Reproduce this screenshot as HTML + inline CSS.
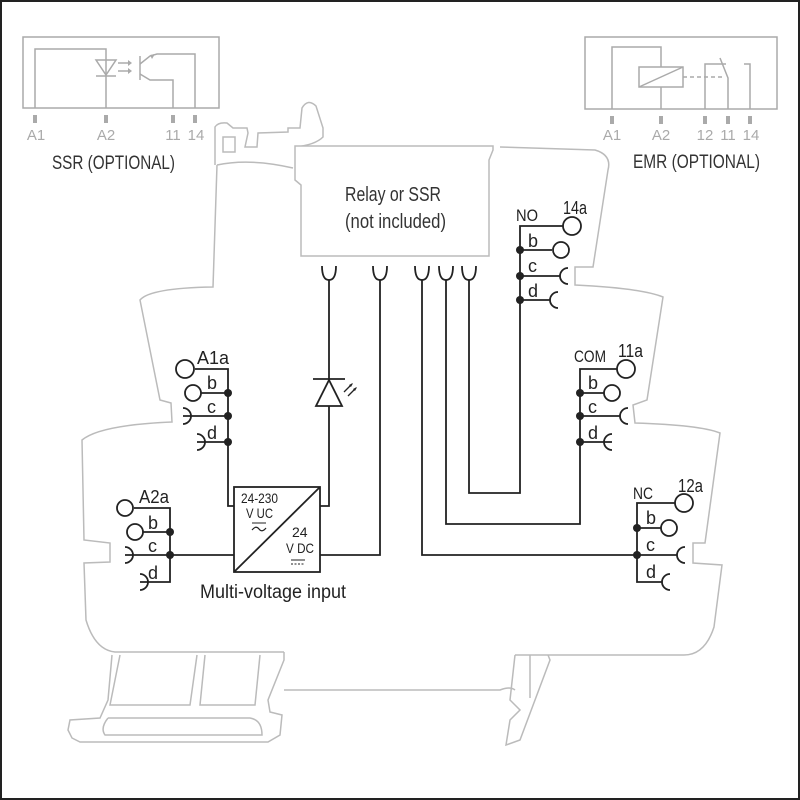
<!DOCTYPE html>
<html><head><meta charset="utf-8"><style>
html,body{margin:0;padding:0;background:#fff}
svg{display:block}
text{font-family:"Liberation Sans Narrow","Liberation Sans",sans-serif}
</style></head><body>
<svg width="800" height="800" viewBox="0 0 800 800" xmlns="http://www.w3.org/2000/svg">
<rect x="0" y="0" width="800" height="800" fill="#fff" stroke="#222" stroke-width="4"/>
<rect x="14" y="12" width="770" height="775" fill="#fff"/>

<!-- SSR optional -->
<g stroke="#aaa" stroke-width="1.5" fill="none">
<rect x="23" y="37" width="196" height="71"/>
<polyline points="35,108 35,49 106,49 106,108"/>
<polygon points="96,60 116,60 106,75"/>
<line x1="96" y1="76" x2="116" y2="76"/>
<line x1="118" y1="63" x2="128" y2="63"/><line x1="118" y1="71" x2="128" y2="71"/>
<line x1="140" y1="56" x2="140" y2="80"/>
<polyline points="140,64 150,56 157,54 195,54 195,108"/>
<polyline points="140,74 150,80 173,80 173,108"/>
</g>
<g fill="#aaa"><polygon points="128,60 132,63 128,66"/><polygon points="128,68 132,71 128,74"/><polygon points="150,55 155,54 152,59"/>
<rect x="33" y="115" width="4" height="8"/><rect x="104" y="115" width="4" height="8"/><rect x="171" y="115" width="4" height="8"/><rect x="193" y="115" width="4" height="8"/>
</g>
<g fill="#aaa" font-size="15" text-anchor="middle">
<text x="36" y="140">A1</text><text x="106" y="140">A2</text><text x="173" y="140">11</text><text x="196" y="140">14</text>
</g>
<text x="52" y="169" font-size="19" fill="#333" textLength="123" lengthAdjust="spacingAndGlyphs">SSR (OPTIONAL)</text>

<!-- EMR optional -->
<g stroke="#aaa" stroke-width="1.5" fill="none">
<rect x="585" y="37" width="192" height="72"/>
<polyline points="612,109 612,47 661,47 661,67"/>
<line x1="661" y1="87" x2="661" y2="109"/>
<rect x="639" y="67" width="44" height="20"/>
<line x1="639" y1="87" x2="683" y2="67"/>
<line x1="683" y1="77" x2="725" y2="77" stroke-dasharray="4,3"/>
<polyline points="705,109 705,64 726,64"/>
<polyline points="720,58 728,78 728,109"/>
<polyline points="744,64 750,64 750,109"/>
</g>
<g fill="#aaa"><rect x="610" y="116" width="4" height="8"/><rect x="659" y="116" width="4" height="8"/><rect x="703" y="116" width="4" height="8"/><rect x="726" y="116" width="4" height="8"/><rect x="748" y="116" width="4" height="8"/></g>
<g fill="#aaa" font-size="15" text-anchor="middle">
<text x="612" y="140">A1</text><text x="661" y="140">A2</text><text x="705" y="140">12</text><text x="728" y="140">11</text><text x="751" y="140">14</text>
</g>
<text x="633" y="168" font-size="19" fill="#333" textLength="127" lengthAdjust="spacingAndGlyphs">EMR (OPTIONAL)</text>

<!-- housing outline -->
<g stroke="#bbb" stroke-width="1.5" fill="none">
<path d="M217,165 Q250,158 293,168 M217,165 L213,287 Q150,288 140,300 L160,400 L171,403 L172,422 Q100,425 82,440 L84,540 L110,543 L110,562 L84,563 L86,620 Q95,650 115,652 L284,652"/>
<path d="M215,165 L215,127 Q218,122 227,123 L233,128 L247,128 L248,133 L245,147 L257,147 L258,133 L288,132 L288,128 L300,128 L302,108 Q308,98 316,106 L323,128 L323,137 Q315,145 295,147 M223,137 L235,137 L235,152 L223,152 Z"/>
<path d="M500,147 L595,150 Q612,155 608,170 L593,267 L575,267 L575,285 Q640,288 663,297 L647,400 L633,405 L635,423 Q700,425 720,433 L705,543 L693,543 L693,563 L722,565 L714,627 Q705,655 684,655 L515,655"/>
<path d="M112,655 L108,700 L100,718 L70,720 L68,730 L72,738 L80,742 L268,742 L280,735 L282,715 L270,712 L268,700 L284,660 L284,652 M120,655 L110,705 L190,705 L197,655 M205,655 L200,705 L255,705 L260,655 M108,718 L250,718 Q262,720 262,735 L105,735 Q100,728 108,718"/>
<path d="M284,690 L500,690 Q510,686 515,690 M515,655 L510,700 L520,710 L510,720 L506,745 L520,740 L550,660 L548,655 M530,655 L530,698"/>
</g>

<!-- relay box -->
<path d="M295,146 L493,146 L493,150 L489,160 L489,256 L301,256 L301,185 L295,180 Z" fill="#fff" stroke="#bbb" stroke-width="1.5"/>
<text x="345" y="201" font-size="20" fill="#333" textLength="96" lengthAdjust="spacingAndGlyphs">Relay or SSR</text>
<text x="345" y="228" font-size="20" fill="#333" textLength="101" lengthAdjust="spacingAndGlyphs">(not included)</text>

<g stroke="#222" stroke-width="1.8" fill="none">
<path d="M322,266 Q322,280 329,280 Q336,280 336,266"/>
<path d="M373,266 Q373,280 380,280 Q387,280 387,266"/>
<path d="M415,266 Q415,280 422,280 Q429,280 429,266"/>
<path d="M439,266 Q439,280 446,280 Q453,280 453,266"/>
<path d="M462,266 Q462,280 469,280 Q476,280 476,266"/>
<polyline points="329,280 329,506 320,506"/>
<polyline points="380,280 380,555 320,555"/>
<polyline points="422,280 422,555 637,555"/>
<polyline points="446,280 446,524 580,524 580,442"/>
<polyline points="469,280 469,493 520,493 520,300"/>
<line x1="313" y1="379" x2="345" y2="379"/>
<polygon points="329,380 316,406 342,406" fill="#fff"/>
<rect x="234" y="487" width="86" height="85" fill="#fff"/>
<line x1="234" y1="572" x2="320" y2="487"/>
<polyline points="228,442 228,506 234,506"/>
<line x1="170" y1="555" x2="234" y2="555"/>
<polyline points="195,369 228,369 228,442"/>
<circle cx="185" cy="369" r="9"/>
<line x1="201" y1="393" x2="228" y2="393"/><circle cx="193" cy="393" r="8"/>
<line x1="183" y1="416" x2="228" y2="416"/><path d="M183,408 A8,8 0 0 1 183,424"/>
<line x1="197" y1="442" x2="228" y2="442"/><path d="M197,434 A8,8 0 0 1 197,450"/>
<polyline points="134,508 170,508 170,582 140,582"/>
<circle cx="125" cy="508" r="8"/>
<line x1="143" y1="532" x2="170" y2="532"/><circle cx="135" cy="532" r="8"/>
<line x1="125" y1="555" x2="170" y2="555"/><path d="M125,547 A8,8 0 0 1 125,563"/>
<path d="M140,574 A8,8 0 0 1 140,590"/>
<polyline points="563,226 520,226 520,300 550,300"/>
<circle cx="572" cy="226" r="9"/>
<line x1="520" y1="250" x2="552" y2="250"/><circle cx="561" cy="250" r="8"/>
<line x1="520" y1="276" x2="560" y2="276"/><path d="M568,268 A8,8 0 0 0 568,284"/>
<path d="M558,292 A8,8 0 0 0 558,308"/>
<polyline points="617,369 580,369 580,442 612,442"/>
<circle cx="626" cy="369" r="9"/>
<line x1="580" y1="393" x2="604" y2="393"/><circle cx="612" cy="393" r="8"/>
<line x1="580" y1="416" x2="620" y2="416"/><path d="M628,408 A8,8 0 0 0 628,424"/>
<path d="M612,434 A8,8 0 0 0 612,450"/>
<polyline points="675,503 637,503 637,582 662,582"/>
<circle cx="684" cy="503" r="9"/>
<line x1="637" y1="528" x2="661" y2="528"/><circle cx="669" cy="528" r="8"/>
<line x1="637" y1="555" x2="677" y2="555"/><path d="M685,547 A8,8 0 0 0 685,563"/>
<path d="M670,574 A8,8 0 0 0 670,590"/>
</g>
<g fill="#222">
<circle cx="228" cy="393" r="4"/><circle cx="228" cy="416" r="4"/><circle cx="228" cy="442" r="4"/>
<circle cx="170" cy="532" r="4"/><circle cx="170" cy="555" r="4"/>
<circle cx="520" cy="250" r="4"/><circle cx="520" cy="276" r="4"/><circle cx="520" cy="300" r="4"/>
<circle cx="580" cy="393" r="4"/><circle cx="580" cy="416" r="4"/><circle cx="580" cy="442" r="4"/>
<circle cx="637" cy="528" r="4"/><circle cx="637" cy="555" r="4"/>
<path d="M344,392 L352,384 M348,396 L356,388" stroke="#222" stroke-width="1.3"/>
<polygon points="353,383 349,385 351,387"/><polygon points="357,387 353,389 355,391"/>
</g>

<g fill="#222" font-size="18">
<text x="197" y="364" textLength="32" lengthAdjust="spacingAndGlyphs">A1a</text><text x="207" y="389">b</text><text x="207" y="413">c</text><text x="207" y="439">d</text>
<text x="139" y="503" textLength="30" lengthAdjust="spacingAndGlyphs">A2a</text><text x="148" y="529">b</text><text x="148" y="552">c</text><text x="148" y="579">d</text>
<text x="516" y="221" font-size="17" textLength="22" lengthAdjust="spacingAndGlyphs">NO</text><text x="563" y="214" textLength="24" lengthAdjust="spacingAndGlyphs">14a</text><text x="528" y="247">b</text><text x="528" y="272">c</text><text x="528" y="297">d</text>
<text x="574" y="362" font-size="17" textLength="32" lengthAdjust="spacingAndGlyphs">COM</text><text x="618" y="357" textLength="25" lengthAdjust="spacingAndGlyphs">11a</text><text x="588" y="389">b</text><text x="588" y="413">c</text><text x="588" y="439">d</text>
<text x="633" y="499" font-size="17" textLength="20" lengthAdjust="spacingAndGlyphs">NC</text><text x="678" y="492" textLength="25" lengthAdjust="spacingAndGlyphs">12a</text><text x="646" y="524">b</text><text x="646" y="551">c</text><text x="646" y="578">d</text>
</g>
<g fill="#222" font-size="14">
<text x="241" y="503" textLength="37" lengthAdjust="spacingAndGlyphs">24-230</text><text x="246" y="518" textLength="27" lengthAdjust="spacingAndGlyphs">V UC</text>
<text x="292" y="537">24</text><text x="286" y="553" textLength="28" lengthAdjust="spacingAndGlyphs">V DC</text>
</g>
<path d="M252,530 Q256,525 259,529 Q262,533 266,528" stroke="#222" stroke-width="1.2" fill="none"/>
<line x1="252" y1="523" x2="266" y2="523" stroke="#222" stroke-width="1"/>
<line x1="291" y1="560" x2="305" y2="560" stroke="#222" stroke-width="1"/>
<line x1="291" y1="564" x2="305" y2="564" stroke="#222" stroke-width="1" stroke-dasharray="2,1.5"/>
<text x="200" y="598" font-size="19" fill="#222" textLength="146" lengthAdjust="spacingAndGlyphs">Multi-voltage input</text>
</svg>
</body></html>
